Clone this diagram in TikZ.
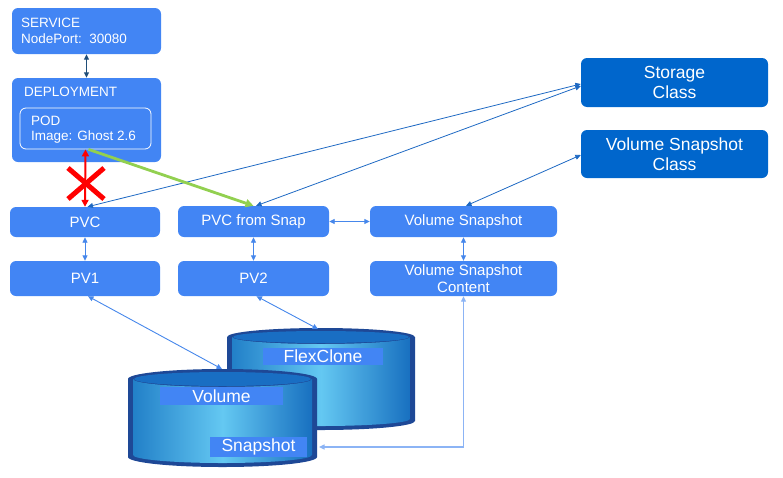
\documentclass[tikz,border=0pt]{standalone}
\usepackage{fontspec}
\setmainfont{Liberation Sans}
\usetikzlibrary{arrows.meta}

\definecolor{boxblue}{RGB}{66,133,244}
\definecolor{classblue}{RGB}{0,102,204}
\definecolor{linkblue}{RGB}{30,105,195}
\definecolor{lightlink}{RGB}{70,135,235}
\definecolor{palelink}{RGB}{140,180,245}
\definecolor{navylink}{RGB}{31,78,121}
\definecolor{rimblue}{RGB}{30,72,150}
\definecolor{lidblue}{RGB}{25,110,195}
\definecolor{bodyleft}{RGB}{34,128,200}
\definecolor{bodymid}{RGB}{100,200,242}
\definecolor{bodyright}{RGB}{24,112,192}
\definecolor{greenlink}{RGB}{146,208,80}

% storage cylinder: centre x, top y, bottom y, x radius, y radius
\newcommand\drawstoragecyl[5]{%
  \fill[rimblue] (#1-#4,#2) -- (#1-#4,#3)
    arc[start angle=180,end angle=360,x radius=#4pt,y radius=#5pt]
    -- (#1+#4,#2)
    arc[start angle=0,end angle=180,x radius=#4pt,y radius=#5pt] -- cycle;
  \shade[left color=bodyleft,right color=bodyright,middle color=bodymid]
    (#1-#4+5,#2) -- (#1-#4+5,#3-2)
    arc[start angle=180,end angle=360,x radius=#4pt-5pt,y radius=#5pt-2pt]
    -- (#1+#4-5,#2)
    arc[start angle=0,end angle=-180,x radius=#4pt-5pt,y radius=#5pt-2pt] -- cycle;
  \fill[lidblue] (#1,#2) ellipse[x radius=#4pt-6pt,y radius=#5pt-3pt];
}

\begin{document}
\begin{tikzpicture}[x=1pt,y=-1pt,
  box/.style={fill=boxblue,rounded corners=6pt,text=white,inner sep=0pt,
    align=center,font=\fontsize{15}{17}\selectfont},
  classbox/.style={box,fill=classblue,font=\fontsize{17.5}{20}\selectfont},
  cyllabel/.style={fill=boxblue,text=white,inner sep=0pt,
    font=\fontsize{17.5}{19}\selectfont},
  plaintext/.style={text=white,inner sep=0pt,anchor=west,align=left,
    font=\fontsize{13.5}{15.5}\selectfont},
  dbl/.style={{Triangle[length=5.5pt,width=5pt]}-{Triangle[length=5.5pt,width=5pt]}},
  link/.style={draw=linkblue,line width=0.8pt,dbl},
  shortlink/.style={draw=lightlink,line width=0.9pt,dbl},
]
\useasboundingbox (0,0) rectangle (783,477);

% Kubernetes objects
\node[box,minimum width=149pt,minimum height=46pt] (svc) at (86.5,31) {};
\node[plaintext] (svctext) at (21,31) {SERVICE\\NodePort:\ \ 30080};
\node[box,minimum width=149pt,minimum height=84pt] (dep) at (86.5,120) {};
\node[plaintext] (deptext) at (24,92) {DEPLOYMENT};
\node[draw=white,line width=0.8pt,rounded corners=6pt,minimum width=131pt,
  minimum height=41pt,inner sep=0pt] (pod) at (85.5,128.5) {};
\node[plaintext] (podtext) at (31,129.5) {POD\\Image: Ghost 2.6};

\node[box,minimum width=150pt,minimum height=30pt] (pvc) at (85,222) {PVC};
\node[box,minimum width=150pt,minimum height=35pt] (pv1) at (85,278.5) {PV1};
\node[box,minimum width=151pt,minimum height=31pt] (pvcs) at (253.5,221.5) {PVC from Snap};
\node[box,minimum width=151pt,minimum height=35pt] (pv2) at (253.5,278.5) {PV2};
\node[box,minimum width=187pt,minimum height=31pt] (vs) at (463.5,221.5) {Volume Snapshot};
\node[box,minimum width=187pt,minimum height=35pt] (vsc) at (463.5,278.5) {Volume Snapshot\\Content};
\node[classbox,minimum width=187pt,minimum height=49pt] (sc) at (674.5,82.5) {Storage\\Class};
\node[classbox,minimum width=187pt,minimum height=48pt] (vscl) at (674.5,154) {Volume Snapshot\\Class};

% storage back end
\drawstoragecyl{321}{337}{421}{94}{9}
\node[cyllabel,minimum width=120pt,minimum height=17pt] (flex) at (323,356.5) {FlexClone};
\drawstoragecyl{222.5}{379}{457}{94.5}{10}
\node[cyllabel,minimum width=123pt,minimum height=18pt] (vol) at (221.5,396) {Volume};
\node[cyllabel,minimum width=97pt,minimum height=20pt] (snap) at (258.5,447) {Snapshot};

\coordinate (flextop) at (318,329);
\coordinate (voltop) at (222,369);
\coordinate (snapend) at (319,447);

% connectors
\draw[navylink,line width=1.2pt,dbl] (svc.south) -- (dep.north);
\draw[link] ([yshift=-1.5pt]sc.west) -- ([xshift=2.5pt]pvc.north);
\draw[link] ([yshift=-3.5pt]sc.west) -- ([xshift=2.5pt]pvcs.north);
\draw[link] ([yshift=-1pt]vscl.west) -- ([xshift=2.5pt]vs.north);
\draw[shortlink] (pvc) -- (pv1);
\draw[shortlink] (pvcs) -- (pv2);
\draw[shortlink] (vs) -- (vsc);
\draw[shortlink] (pvcs) -- (vs);
\draw[shortlink] ([xshift=3pt]pv1.south) -- (voltop);
\draw[shortlink] ([xshift=3pt]pv2.south) -- (flextop);
\draw[draw=palelink,line width=1.2pt,dbl] (snapend) -| (vsc.south);

\draw[greenlink,line width=2.8pt,-{Triangle[length=8pt,width=8pt]}]
  ([xshift=3pt]pod.south) -- (pvcs.north);
\draw[red,line width=2pt,
  {Triangle[length=7pt,width=7pt]}-{Triangle[length=7pt,width=7pt]}]
  (pvc.north) -- (pod.south);
\draw[red,line width=5pt] (68,168) -- (104,199) (68,199) -- (104,168);
\end{tikzpicture}
\end{document}
